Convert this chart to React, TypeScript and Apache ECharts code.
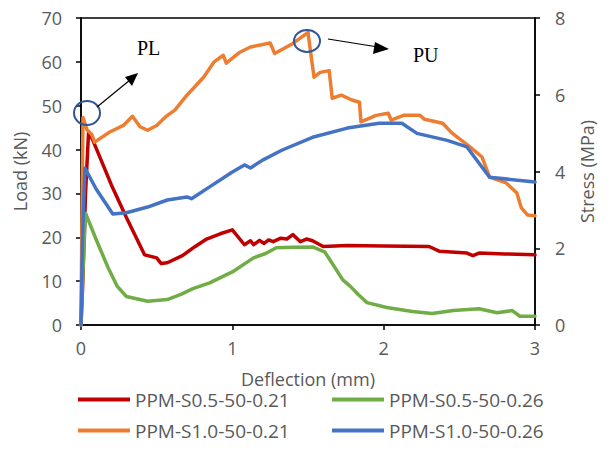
import React, { useEffect, useRef } from "react";
import * as echarts from "echarts";

const seriesNames = [
  "PPM-S0.5-50-0.21",
  "PPM-S0.5-50-0.26",
  "PPM-S1.0-50-0.21",
  "PPM-S1.0-50-0.26",
];
const seriesColors = ["#C00000", "#70AD47", "#ED7D31", "#4472C4"];

const xTicks = [0, 1, 2, 3];
const loadTicks = [0, 10, 20, 30, 40, 50, 60, 70];
const stressTicks = [0, 2, 4, 6, 8];

// [deflection mm, load kN]
const redData: [number, number][] = [
  [0, 0], [0.01, 8], [0.03, 30], [0.05, 44], [0.08, 42], [0.2, 32], [0.3, 24.5], [0.42, 16], [0.5, 15.3],
  [0.53, 14], [0.57, 14.2], [0.67, 15.8], [0.75, 17.8], [0.83, 19.6], [0.92, 20.8], [1.0, 21.7],
  [1.08, 18.3], [1.12, 19.2], [1.14, 18.3], [1.18, 19.3], [1.21, 18.6], [1.24, 19.4], [1.27, 19.0],
  [1.32, 19.8], [1.36, 19.6], [1.4, 20.6], [1.45, 19.0], [1.49, 19.6], [1.53, 19.2], [1.6, 17.9],
  [1.76, 18.1], [2.0, 18.0], [2.3, 17.9], [2.37, 16.8], [2.55, 16.4], [2.59, 15.8], [2.63, 16.4],
  [2.8, 16.2], [3.0, 16.0],
];
const greenData: [number, number][] = [
  [0, 0], [0.01, 10], [0.03, 25.5], [0.1, 19.5], [0.18, 13], [0.24, 8.8], [0.3, 6.5], [0.44, 5.4],
  [0.57, 5.8], [0.66, 7.0], [0.74, 8.3], [0.85, 9.6], [1.0, 12.1], [1.14, 15.3], [1.22, 16.3], [1.29, 17.6],
  [1.4, 17.7], [1.53, 17.8], [1.61, 16.7], [1.67, 13.5], [1.73, 10.3], [1.78, 8.8], [1.83, 7.0], [1.89, 5.1],
  [2.02, 4.0], [2.19, 3.1], [2.32, 2.6], [2.46, 3.3], [2.63, 3.7], [2.75, 2.8], [2.85, 3.3],
  [2.9, 2.0], [3.0, 2.0],
];
const orangeData: [number, number][] = [
  [0, 0], [0.005, 20], [0.013, 47.3], [0.04, 44.5], [0.07, 43.5], [0.09, 41.7], [0.19, 44], [0.28, 45.5],
  [0.34, 47.6], [0.39, 45.2], [0.44, 44.4], [0.5, 45.5], [0.56, 47.5], [0.62, 49], [0.7, 52.4],
  [0.81, 56.5], [0.88, 60], [0.94, 61.5], [0.96, 59.7], [1.05, 62.2], [1.12, 63.4], [1.25, 64.3],
  [1.28, 61.9], [1.4, 64.2], [1.5, 66.7], [1.52, 61.5], [1.54, 56.5], [1.58, 57.6], [1.64, 58],
  [1.66, 51.7], [1.72, 52.4], [1.79, 51.3], [1.84, 50.8], [1.85, 46.3], [1.95, 47.8], [2.03, 48.3],
  [2.05, 46.7], [2.13, 47.8], [2.24, 47.8], [2.27, 46.9], [2.39, 46], [2.45, 43.8], [2.57, 40.6],
  [2.65, 38.3], [2.7, 33.7], [2.81, 32.4], [2.88, 30.1], [2.91, 26.7], [2.95, 25.1], [3.0, 24.9],
];
const blueData: [number, number][] = [
  [0, 0], [0.01, 20], [0.026, 35.8], [0.1, 31], [0.21, 25.3], [0.3, 25.6], [0.44, 26.9], [0.57, 28.5],
  [0.7, 29.2], [0.73, 28.8], [0.85, 31.5], [1.0, 34.9], [1.08, 36.5], [1.12, 35.8], [1.2, 37.6],
  [1.33, 39.9], [1.53, 42.8], [1.76, 44.9], [1.97, 46], [2.12, 46], [2.22, 43.7], [2.42, 42.1],
  [2.55, 40.6], [2.7, 33.7], [3.0, 32.6],
];
const allData = [redData, greenData, orangeData, blueData];
const drawOrder = [0, 2, 1, 3];

export default function App() {
  const ref = useRef<HTMLDivElement>(null);
  useEffect(() => {
    if (!ref.current) return;
    const chart = echarts.init(ref.current, null, { renderer: "svg" });
    const font = "'Open Sans', sans-serif";
    const grey = "#595959";
    const fs = 18;
    const legendPos = [
      { left: 78, top: 390 },
      { left: 332, top: 390 },
      { left: 78, top: 421 },
      { left: 332, top: 421 },
    ];
    chart.setOption({
      animation: false,
      grid: { left: 81, right: 79, top: 18, bottom: 144, show: true, borderColor: "#000", borderWidth: 1.5, backgroundColor: "transparent" },
      legend: seriesNames.map((n, i) => ({
        data: [n],
        left: legendPos[i].left,
        top: legendPos[i].top,
        icon: "rect",
        itemWidth: 52,
        itemHeight: 4,
        itemGap: 6,
        textStyle: { color: grey, fontSize: 19, fontFamily: font },
        padding: 0,
      })),
      xAxis: {
        type: "value",
        min: xTicks[0],
        max: xTicks[xTicks.length - 1],
        interval: 1,
        name: "Deflection (mm)",
        nameLocation: "middle",
        nameGap: 45,
        nameTextStyle: { color: grey, fontSize: fs, fontFamily: font },
        axisLine: { lineStyle: { color: "#000", width: 1.5 } },
        axisTick: { show: true, inside: false, length: 5, lineStyle: { color: "#000", width: 1.5 } },
        axisLabel: { color: grey, fontSize: fs, fontFamily: font, margin: 14 },
        splitLine: { show: false },
      },
      yAxis: [
        {
          type: "value",
          min: loadTicks[0],
          max: loadTicks[loadTicks.length - 1],
          interval: 10,
          name: "Load (kN)",
          nameLocation: "middle",
          nameGap: 52,
          nameRotate: 90,
          nameTextStyle: { color: grey, fontSize: fs, fontFamily: font },
          axisLine: { show: true, lineStyle: { color: "#000", width: 1.5 } },
          axisTick: { show: true, length: 5, lineStyle: { color: "#000", width: 1.5 } },
          axisLabel: { color: grey, fontSize: fs, fontFamily: font, margin: 19 },
          splitLine: { show: false },
        },
        {
          type: "value",
          position: "right",
          min: stressTicks[0],
          max: stressTicks[stressTicks.length - 1],
          interval: 2,
          name: "Stress (MPa)",
          nameLocation: "middle",
          nameGap: 43,
          nameRotate: 90,
          nameTextStyle: { color: grey, fontSize: fs, fontFamily: font },
          axisLine: { show: true, lineStyle: { color: "#000", width: 1.5 } },
          axisTick: { show: true, length: 5, lineStyle: { color: "#000", width: 1.5 } },
          axisLabel: { color: grey, fontSize: fs, fontFamily: font, margin: 20 },
          splitLine: { show: false },
        },
      ],
      series: drawOrder.map((i) => ({
        type: "line",
        name: seriesNames[i],
        data: allData[i],
        yAxisIndex: 0,
        showSymbol: false,
        symbol: "none",
        lineStyle: { color: seriesColors[i], width: 3.5, join: "round", cap: "round" },
        itemStyle: { color: seriesColors[i] },
        z: 2 + i,
      })),
      graphic: [
        { type: "ellipse", shape: { cx: 87, cy: 113, rx: 13, ry: 12 }, style: { fill: "none", stroke: "#2F5597", lineWidth: 2 }, z: 100 },
        { type: "ellipse", shape: { cx: 307, cy: 41, rx: 13, ry: 11 }, style: { fill: "none", stroke: "#2F5597", lineWidth: 2 }, z: 100 },
        { type: "line", shape: { x1: 97, y1: 107, x2: 130, y2: 80 }, style: { stroke: "#000", lineWidth: 1.2 }, z: 100 },
        { type: "polygon", shape: { points: [[138, 73], [125, 77], [132, 86]] }, style: { fill: "#000" }, z: 100 },
        { type: "line", shape: { x1: 328, y1: 39, x2: 378, y2: 47 }, style: { stroke: "#000", lineWidth: 1.2 }, z: 100 },
        { type: "polygon", shape: { points: [[389, 49], [375, 42], [373, 54]] }, style: { fill: "#000" }, z: 100 },
        { type: "text", x: 137, y: 48, style: { text: "PL", fill: "#000", fontSize: 20, fontFamily: "'Liberation Serif', serif", verticalAlign: "middle" }, z: 100 },
        { type: "text", x: 413, y: 55, style: { text: "PU", fill: "#000", fontSize: 20, fontFamily: "'Liberation Serif', serif", verticalAlign: "middle" }, z: 100 },
      ],
    });
    return () => chart.dispose();
  }, []);
  return <div ref={ref} style={{ width: 614, height: 469, position: "absolute", left: 0, top: 0 }} />;
}
